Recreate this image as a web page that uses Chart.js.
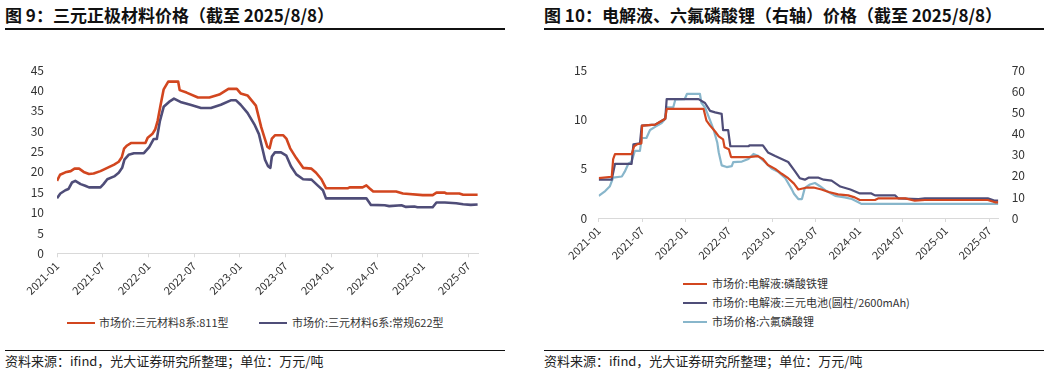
<!DOCTYPE html>
<html>
<head>
<meta charset="utf-8">
<script src="https://cdn.jsdelivr.net/npm/chart.js@4.4.1/dist/chart.umd.min.js"></script>
<style>
  html,body{margin:0;padding:0;background:#fff;}
  body{width:1054px;height:372px;position:relative;overflow:hidden;font-family:"Noto Sans CJK SC","Noto Sans",sans-serif;color:#1a1a1a;}
  .title{position:absolute;font-size:17px;font-weight:bold;line-height:17px;white-space:nowrap;color:#111;}
  .rule{position:absolute;height:1.5px;background:#111;}
  .src{position:absolute;font-size:13px;line-height:13px;white-space:nowrap;color:#222;}
  .leg{position:absolute;font-size:11px;line-height:11px;white-space:nowrap;color:#333;}
  .sw{position:absolute;height:2px;}
  .box{position:absolute;}
</style>
</head>
<body>
<div class="title" style="left:5px;top:6px;">图 9：三元正极材料价格（截至 2025/8/8）</div>
<div class="rule" style="left:5px;top:28px;width:500px;"></div>
<div class="title" style="left:544px;top:6px;">图 10：电解液、六氟磷酸锂（右轴）价格（截至 2025/8/8）</div>
<div class="rule" style="left:544px;top:28px;width:500px;"></div>

<div class="box" style="left:0;top:50px;"><canvas id="c1" width="500" height="260"></canvas></div>
<div class="box" style="left:527px;top:50px;"><canvas id="c2" width="527" height="220"></canvas></div>

<div class="sw" style="left:67px;top:322px;width:28px;background:#d2461f;"></div>
<div class="leg" style="left:99px;top:317px;">市场价:三元材料8系:811型</div>
<div class="sw" style="left:259px;top:322px;width:28px;background:#4f4d78;"></div>
<div class="leg" style="left:292px;top:317px;">市场价:三元材料6系:常规622型</div>

<div class="sw" style="left:683px;top:283px;width:24px;background:#d2461f;"></div>
<div class="leg" style="left:712px;top:278px;">市场价:电解液:磷酸铁锂</div>
<div class="sw" style="left:683px;top:302px;width:24px;background:#4f4d78;"></div>
<div class="leg" style="left:712px;top:297px;">市场价:电解液:三元电池(圆柱/2600mAh)</div>
<div class="sw" style="left:683px;top:321px;width:24px;background:#88b6cb;"></div>
<div class="leg" style="left:712px;top:316px;">市场价格:六氟磷酸锂</div>

<div class="rule" style="left:5px;top:350px;width:500px;height:1px;"></div>
<div class="src" style="left:5px;top:354px;">资料来源：ifind，光大证券研究所整理；单位：万元/吨</div>
<div class="rule" style="left:544px;top:350px;width:500px;height:1px;"></div>
<div class="src" style="left:544px;top:354px;">资料来源：ifind，光大证券研究所整理；单位：万元/吨</div>

<script>
// x values are months elapsed since 2021-01-01
const tickMonths = [0, 6, 12, 18, 24, 30, 36, 42, 48, 54];
const tickLabels = ['2021-01','2021-07','2022-01','2022-07','2023-01','2023-07','2024-01','2024-07','2025-01','2025-07'];
const lastMonth = 55.25; // 2025-08-08

// Figure 9: ternary cathode prices (万元/吨)
const months811 = [0,0.4,1.1,1.8,2.3,2.9,3.5,4.2,4.8,5.7,6.6,7.5,8.1,8.5,8.8,9.2,9.7,11.6,11.9,12.5,12.9,13.2,13.6,14.0,14.6,15.9,16.1,17.0,18.5,20.0,21.3,22.5,23.6,24.1,25.0,26.1,26.8,27.3,27.6,27.9,28.2,28.6,29.7,30.1,30.6,31.4,32.3,33.4,34.0,34.7,35.3,38.2,38.4,40.1,40.6,41.0,41.5,44.5,45.4,48.0,49.3,49.8,50.9,51.1,52.8,53.3,55.2];
const price811  = [17.8,19.3,19.9,20.2,20.8,20.8,20.0,19.5,19.6,20.2,21.0,21.8,22.5,23.6,25.7,26.5,27.1,27.1,28.4,29.3,30.5,32.5,36.5,40.3,42.2,42.2,40.1,39.5,38.3,38.3,39.0,40.4,40.4,39.3,38.8,36.3,31.0,28.0,26.2,25.8,28.2,29.0,29.0,28.2,25.8,23.4,21.0,20.8,19.8,18.2,16.0,16.0,16.2,16.2,16.7,16.0,15.2,15.2,14.7,14.3,14.3,14.9,14.9,14.7,14.7,14.4,14.4];
const months622 = [0,0.44,1.1,1.5,1.97,2.4,3.1,3.7,4.2,5.7,6.1,6.6,7.5,8.1,8.55,8.85,9.4,10.1,11.4,12.1,12.7,13.1,13.5,14.0,14.7,15.35,16.2,17.5,18.9,20.2,21.5,22.8,23.5,24.1,25.0,25.9,26.5,27.0,27.3,27.7,28.0,28.2,28.6,29.4,30.1,30.7,31.4,32.3,33.4,34.2,34.9,35.3,40.6,41.2,43.0,43.6,45.2,45.8,46.9,47.3,49.3,49.8,50.9,52.4,53.3,54.3,55.2];
const price622  = [13.5,14.7,15.5,15.8,17.4,17.8,17.0,16.6,16.2,16.2,17.0,18.2,18.9,19.8,21.0,23.0,24.2,24.6,24.6,26.1,28.1,28.1,32.5,36.0,37.2,38.0,37.2,36.5,35.7,35.7,36.5,37.6,37.6,36.5,34.5,31.7,29.3,25.4,23.0,21.4,21.0,23.8,24.8,24.8,24.0,21.4,19.4,18.2,18.1,16.7,15.5,13.5,13.5,11.9,11.8,11.6,11.8,11.4,11.5,11.3,11.3,12.5,12.5,12.3,12.05,11.9,12.0];

// Figure 10: electrolyte (left axis) and LiPF6 (right axis) prices (万元/吨)
const monthsLfp = [0,1.8,2.0,2.25,4.55,4.9,5.3,5.9,6.0,7.8,8.5,9.2,9.4,14.5,14.9,15.4,16.1,16.6,17.2,17.4,18.0,18.3,20.7,22.0,22.7,23.4,24.4,25.3,26.2,27.0,27.6,28.8,29.7,30.8,31.8,33.1,34.5,35.4,36.1,38.2,38.7,42.4,43.7,45.1,53.8,54.8,55.25];
const priceLfp  = [4.05,4.2,6.0,6.5,6.5,7.3,7.5,7.6,9.4,9.5,9.8,10.1,11.1,11.1,9.9,9.4,8.8,8.3,8.0,7.2,7.0,6.2,6.2,6.3,6.0,5.4,5.0,4.5,4.05,3.5,2.9,3.1,3.1,2.9,2.65,2.4,2.3,2.1,1.83,1.83,2.0,2.0,1.76,1.83,1.83,1.6,1.6];
const monthsNcm = [0,1.8,2.25,4.55,4.8,5.7,5.95,7.8,8.5,9.2,9.4,13.8,14.7,15.4,16.1,17.0,17.2,17.9,18.2,20.7,20.9,22.7,23.4,24.4,25.3,26.2,27.1,27.8,28.5,29.0,30.4,31.1,32.2,33.4,34.8,36.1,37.7,38.2,41.0,41.4,44.2,45.1,53.8,54.8,55.25];
const priceNcm  = [3.9,3.9,5.5,5.5,7.5,7.6,9.4,9.5,9.8,10.1,12.1,12.1,11.7,10.9,10.75,10.6,8.95,8.95,7.3,7.3,7.4,7.4,6.67,6.3,6.0,5.7,4.8,4.05,3.9,4.1,4.1,3.9,3.8,3.2,2.9,2.5,2.5,2.3,2.3,2.0,1.93,2.0,2.0,1.76,1.76];
const monthsLipf6 = [0,0.9,1.55,2.0,3.2,3.6,4.1,4.55,5.0,5.7,5.95,6.6,7.1,7.8,8.7,9.2,9.4,10.3,10.6,11.9,12.2,14.0,14.2,14.7,15.4,15.9,16.4,16.6,17.0,17.7,18.4,18.6,19.8,20.7,21.4,22.0,23.0,23.9,24.8,25.8,26.7,27.0,27.6,28.1,28.5,29.2,29.9,30.6,31.5,32.7,34.0,35.0,35.9,36.3,55.25];
const priceLipf6  = [10.5,12.8,15.1,19.2,19.7,22,25.8,26.8,31.9,31.9,38,38,41.8,43.3,45.1,47.1,52.5,52.5,56.3,56.5,58.9,58.9,54.7,52.5,46.4,41.8,35.7,31.1,25,24.2,24.6,26.5,26.8,28,30.4,29.6,26.5,23.5,22,18.9,13.6,11.5,9.0,9.0,14.3,15.9,16.6,15.1,12.8,10.5,9.8,9.0,7.5,6.7,6.7];

const pts = (xs, ys) => xs.map((x, i) => ({x: x, y: ys[i]}));
const FONT = '"Noto Sans CJK SC","Noto Sans",sans-serif';
const RED = '#d2461f', NAVY = '#4f4d78', LBLUE = '#88b6cb';

function xAxis(h) {
  return {
    type: 'linear', min: 0, max: lastMonth,
    afterBuildTicks: s => { s.ticks = tickMonths.map(v => ({value: v})); },
    afterFit: s => { s.height = h; },
    ticks: {
      autoSkip: false, minRotation: 45, maxRotation: 45, padding: 2,
      color: '#333', font: {family: FONT, size: 11},
      callback: v => { const i = tickMonths.indexOf(v); return i >= 0 ? tickLabels[i] : ''; }
    },
    grid: {display: true, drawOnChartArea: false, drawTicks: true, tickLength: 4, color: '#d9d9d9'},
    border: {display: true, color: '#d9d9d9', width: 1}
  };
}
function yAxis(pos, max, step, w, pad) {
  return {
    type: 'linear', position: pos, min: 0, max: max,
    afterFit: s => { s.width = w; },
    ticks: {stepSize: step, padding: pad, color: '#333', font: {family: FONT, size: 12}},
    grid: {display: false, drawTicks: false, tickLength: 0},
    border: {display: false}
  };
}
const common = {
  responsive: false, animation: false, devicePixelRatio: 1,
  plugins: {legend: {display: false}, tooltip: {enabled: false}},
  elements: {point: {radius: 0}, line: {tension: 0, borderJoinStyle: 'round'}}
};

new Chart(document.getElementById('c1'), {
  type: 'line',
  data: {datasets: [
    {label: '市场价:三元材料8系:811型', data: pts(months811, price811), borderColor: RED, borderWidth: 2.6},
    {label: '市场价:三元材料6系:常规622型', data: pts(months622, price622), borderColor: NAVY, borderWidth: 2.6}
  ]},
  options: Object.assign({}, common, {
    layout: {padding: {top: 13.5, right: 22, left: 0, bottom: 0}},
    scales: {x: xAxis(56.7), y: yAxis('left', 45, 5, 57, 13)}
  })
});

new Chart(document.getElementById('c2'), {
  type: 'line',
  data: {datasets: [
    {label: '市场价:电解液:磷酸铁锂', data: pts(monthsLfp, priceLfp), borderColor: RED, borderWidth: 2.2, yAxisID: 'y'},
    {label: '市场价:电解液:三元电池(圆柱/2600mAh)', data: pts(monthsNcm, priceNcm), borderColor: NAVY, borderWidth: 2.2, yAxisID: 'y'},
    {label: '市场价格:六氟磷酸锂', data: pts(monthsLipf6, priceLipf6), borderColor: LBLUE, borderWidth: 2.2, yAxisID: 'y2'}
  ]},
  options: Object.assign({}, common, {
    layout: {padding: {top: 15, right: 0, left: 0, bottom: 0}},
    scales: {x: xAxis(52), y: yAxis('left', 15, 5, 71.7, 11.5), y2: yAxis('right', 70, 10, 55.7, 13.4)}
  })
});
</script>
</body>
</html>
